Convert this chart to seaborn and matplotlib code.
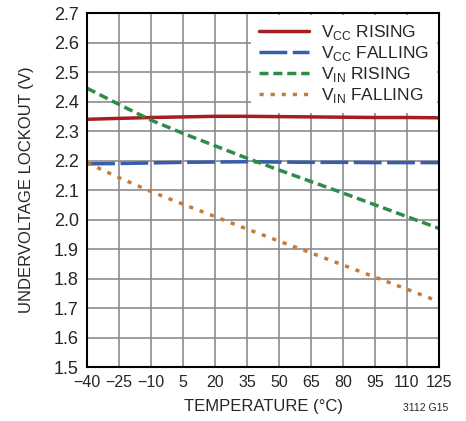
import numpy as np
import pandas as pd
import seaborn as sns
import matplotlib.pyplot as plt

temp = [-40, -25, -10, 5, 20, 35, 50, 65, 80, 95, 110, 125]
vcc_rising = [2.340, 2.343, 2.346, 2.348, 2.350, 2.350, 2.349, 2.348, 2.347, 2.346, 2.346, 2.345]
vcc_falling = [2.189, 2.190, 2.192, 2.194, 2.195, 2.196, 2.195, 2.194, 2.194, 2.193, 2.193, 2.193]
vin_rising = [2.445, 2.390, 2.337, 2.292, 2.250, 2.208, 2.168, 2.129, 2.090, 2.050, 2.010, 1.970]
vin_falling = [2.192, 2.142, 2.095, 2.052, 2.010, 1.968, 1.927, 1.887, 1.846, 1.805, 1.764, 1.722]

x_ticks = [-40, -25, -10, 5, 20, 35, 50, 65, 80, 95, 110, 125]
x_labels = ['\u221240', '\u221225', '\u221210', '5', '20', '35', '50', '65', '80', '95', '110', '125']
y_ticks = [1.5, 1.6, 1.7, 1.8, 1.9, 2.0, 2.1, 2.2, 2.3, 2.4, 2.5, 2.6, 2.7]

sns.set_theme(style="white")
plt.rcParams['font.family'] = ['Liberation Sans', 'DejaVu Sans']
plt.rcParams['mathtext.fontset'] = 'custom'
plt.rcParams['mathtext.rm'] = 'Liberation Sans'

df = pd.DataFrame({'temp': temp, 'vcc_r': vcc_rising, 'vcc_f': vcc_falling,
                   'vin_r': vin_rising, 'vin_f': vin_falling})

fig = plt.figure(figsize=(4.66, 4.21), dpi=100)
ax = fig.add_axes([0.187, 0.128, 0.755, 0.841])

sns.lineplot(data=df, x='temp', y='vcc_r', ax=ax, color='#A51E22', lw=2.5,
             label=r'V$_{\mathregular{CC}}$ RISING')
sns.lineplot(data=df, x='temp', y='vcc_f', ax=ax, color='#3A5CAC', lw=2.5,
             label=r'V$_{\mathregular{CC}}$ FALLING')
ax.lines[-1].set_dashes([8, 1.6])
sns.lineplot(data=df, x='temp', y='vin_r', ax=ax, color='#2E8B48', lw=2.5,
             label=r'V$_{\mathregular{IN}}$ RISING')
ax.lines[-1].set_dashes([2.6, 1.4])
sns.lineplot(data=df, x='temp', y='vin_f', ax=ax, color='#C67B38', lw=2.5,
             label=r'V$_{\mathregular{IN}}$ FALLING')
ax.lines[-1].set_dashes([1.2, 2.0])

ax.set_xlim(-40, 125)
ax.set_ylim(1.5, 2.7)
ax.set_xticks(x_ticks)
ax.set_xticklabels(x_labels)
ax.set_yticks(y_ticks)
ax.set_yticklabels([f'{v:.1f}' for v in y_ticks])
ax.grid(True, color='#8c8c8c', lw=1.2)
ax.set_axisbelow(True)
ax.tick_params(axis='x', labelsize=11.5, direction='in', length=0, pad=6)
ax.tick_params(axis='y', labelsize=13, direction='in', length=0, pad=6)
for s in ax.spines.values():
    s.set_color('black')
    s.set_linewidth(1.5)

ax.set_xlabel('TEMPERATURE (\u00b0C)', fontsize=12, labelpad=6)
ax.set_ylabel('UNDERVOLTAGE LOCKOUT (V)', fontsize=12, labelpad=14)

leg = ax.legend(loc='upper right', fontsize=12.5, frameon=True, fancybox=False,
                framealpha=1, edgecolor='white', borderpad=0.45, labelspacing=0.12,
                handlelength=2.9, handletextpad=0.7, borderaxespad=0.12)
leg.get_frame().set_linewidth(0)

fig.text(0.962, 0.02, '3112 G15', fontsize=7.5, ha='right', va='bottom')

fig.savefig('out.png', dpi=100)
